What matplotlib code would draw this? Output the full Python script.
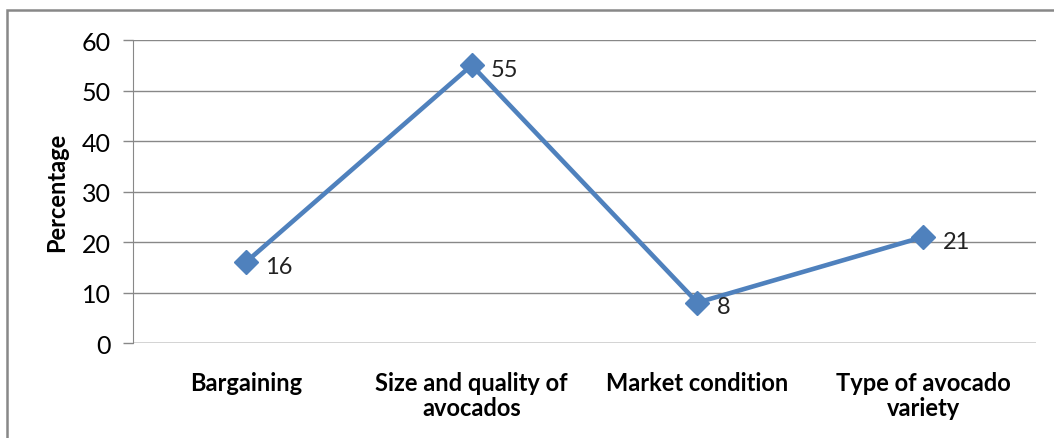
import matplotlib.pyplot as plt
from matplotlib.patches import Rectangle

categories = ['Bargaining', 'Size and quality of\navocados', 'Market condition', 'Type of avocado\nvariety']
values = [16, 55, 8, 21]
yticks = [0, 10, 20, 30, 40, 50, 60]

plt.rcParams['font.family'] = ['Lato', 'DejaVu Sans']

fig = plt.figure(figsize=(10.54, 4.39), dpi=100)
ax = fig.add_axes([0.1262, 0.2164, 0.8568, 0.6902])

# chart area border (left/top visible, right/bottom run off the image)
fig.patches.append(Rectangle((7 / 1054, -0.1), 1.2, 1 - 11 / 439 + 0.1,
                             transform=fig.transFigure, fill=False,
                             edgecolor='#888888', linewidth=1.8))

x = [i + 0.5 for i in range(len(categories))]
ax.plot(x, values, color='#4F81BD', linewidth=3.3, marker='D', markersize=12,
        markeredgecolor='#4F81BD', zorder=3)
for xi, v in zip(x, values):
    ax.annotate(str(v), (xi, v), xytext=(14, -3), textcoords='offset points',
                ha='left', va='center', fontsize=17, color='#222222')

ax.set_xlim(0, 4)
ax.set_ylim(0, 60)
ax.set_yticks(yticks)
ax.set_xticks(x)
ax.set_xticklabels(categories, fontsize=17, fontweight='bold', linespacing=1.1)
ax.tick_params(axis='x', length=0, pad=20)
ax.tick_params(axis='y', length=7, width=1, color='#888888', labelsize=18, pad=9)
ax.yaxis.grid(True, color='#888888', linewidth=1)
ax.set_axisbelow(True)
for s in ['top', 'right', 'bottom']:
    ax.spines[s].set_visible(False)
ax.spines['left'].set_color('#888888')
ax.axhline(0, color='#888888', linewidth=1)
ax.set_ylabel('Percentage', fontsize=17, fontweight='bold', labelpad=10)

fig.savefig('out.png', dpi=100)
